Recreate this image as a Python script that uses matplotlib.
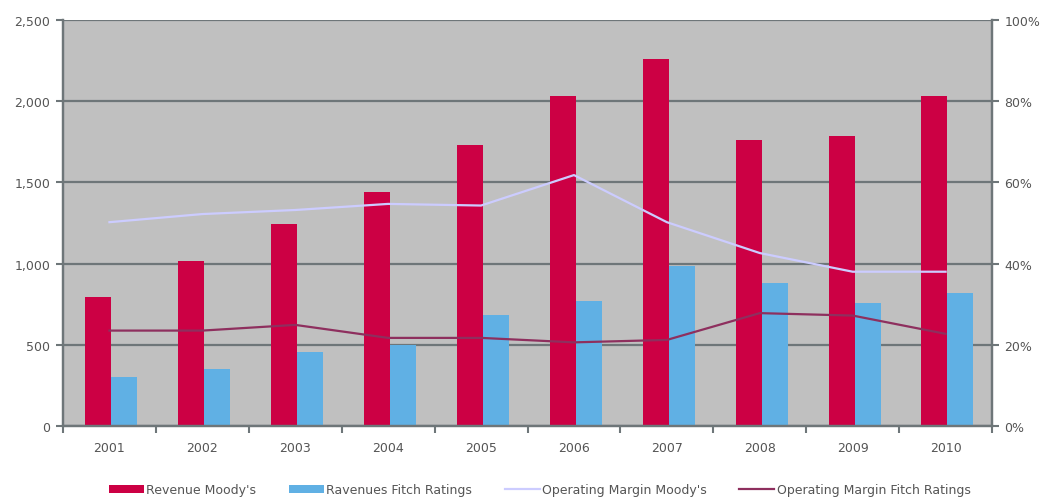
import matplotlib.pyplot as plt
import matplotlib.ticker as mticker
import numpy as np

years = ['2001', '2002', '2003', '2004', '2005', '2006', '2007', '2008', '2009', '2010']
revenue_moodys = [794, 1018, 1244, 1439, 1730, 2032, 2260, 1761, 1786, 2032]
revenue_fitch = [304, 351, 458, 501, 686, 772, 987, 880, 757, 819]
margin_moodys = [50.2, 52.2, 53.2, 54.7, 54.3, 61.8, 50.2, 42.6, 38.0, 38.0]
margin_fitch = [23.5, 23.5, 24.9, 21.7, 21.7, 20.6, 21.2, 27.8, 27.2, 22.7]

red = '#CC0044'
blue = '#60B0E4'
lavender = '#CCCCFF'
maroon = '#8E2F5E'
grid_col = '#6E7679'
txt_col = '#555555'
fs = 9

fig = plt.figure(figsize=(10.48, 5.02), dpi=100)
ax1 = fig.add_axes([0.0601, 0.1494, 0.8865, 0.8088])
ax1.set_facecolor('#C0C0C0')

x = np.arange(len(years))
w = 0.28
ax1.bar(x - w / 2 + 0.02, revenue_moodys, w, color=red, label="Revenue Moody's", zorder=2)
ax1.bar(x + w / 2 + 0.02, revenue_fitch, w, color=blue, label='Ravenues Fitch Ratings', zorder=2)

ax1.set_xlim(-0.5, len(years) - 0.5)
ax1.set_ylim(0, 2500)
ax1.set_yticks(np.arange(0, 2501, 500))
ax1.yaxis.set_major_formatter(mticker.FuncFormatter(lambda v, p: f'{int(v):,}'))
ax1.set_axisbelow(True)
ax1.grid(axis='y', color=grid_col, linewidth=1.6)

ax1.set_xticks(x)
ax1.set_xticklabels(years)
ax1.set_xticks(np.arange(-0.5, len(years)), minor=True)
ax1.tick_params(axis='x', which='major', length=0, pad=11, labelsize=fs, labelcolor=txt_col)
ax1.tick_params(axis='x', which='minor', length=5, width=1.5, color=grid_col)
ax1.tick_params(axis='y', length=5, width=1.5, color=grid_col, pad=4, labelsize=fs, labelcolor=txt_col)

for s in ['left', 'right', 'bottom']:
    ax1.spines[s].set_color(grid_col)
    ax1.spines[s].set_linewidth(1.6)
ax1.spines['top'].set_visible(False)

ax2 = ax1.twinx()
ax2.plot(x, margin_moodys, color=lavender, linewidth=1.6, label="Operating Margin Moody's")
ax2.plot(x, margin_fitch, color=maroon, linewidth=1.6, label='Operating Margin Fitch Ratings')
ax2.set_ylim(0, 100)
ax2.set_yticks(np.arange(0, 101, 20))
ax2.yaxis.set_major_formatter(mticker.FuncFormatter(lambda v, p: f'{int(v)}%'))
ax2.tick_params(axis='y', length=5, width=1.5, color=grid_col, pad=4, labelsize=fs, labelcolor=txt_col)
for s in ['left', 'right', 'bottom']:
    ax2.spines[s].set_color(grid_col)
    ax2.spines[s].set_linewidth(1.6)
ax2.spines['top'].set_visible(False)

h1, l1 = ax1.get_legend_handles_labels()
h2, l2 = ax2.get_legend_handles_labels()
fig.legend(h1 + h2, l1 + l2, loc='center', bbox_to_anchor=(0.515, 0.022), ncol=4,
           frameon=False, fontsize=fs, labelcolor=txt_col, handlelength=2.8,
           handletextpad=0.2, columnspacing=2.6, handleheight=0.6)

fig.savefig('out.png', dpi=100)
